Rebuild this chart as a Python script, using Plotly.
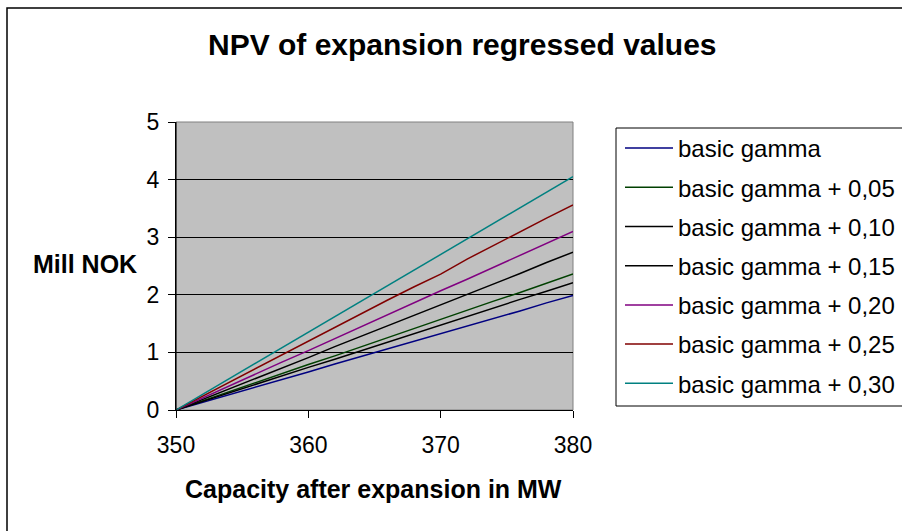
import plotly.graph_objects as go

capacity = [350, 352, 354, 356, 358, 360, 362, 364, 366, 368, 370, 372, 374, 376, 378, 380]

series_names = [
    "basic gamma",
    "basic gamma + 0,05",
    "basic gamma + 0,10",
    "basic gamma + 0,15",
    "basic gamma + 0,20",
    "basic gamma + 0,25",
    "basic gamma + 0,30",
]

npv_basic = [0, 0.13, 0.27, 0.40, 0.53, 0.66, 0.80, 0.93, 1.06, 1.19, 1.33, 1.46, 1.59, 1.72, 1.86, 1.99]
npv_005 = [0, 0.16, 0.32, 0.48, 0.63, 0.79, 0.94, 1.10, 1.26, 1.41, 1.57, 1.73, 1.89, 2.04, 2.20, 2.36]
npv_010 = [0, 0.15, 0.29, 0.44, 0.59, 0.74, 0.88, 1.03, 1.18, 1.33, 1.47, 1.62, 1.77, 1.92, 2.06, 2.21]
npv_015 = [0, 0.18, 0.37, 0.55, 0.73, 0.91, 1.10, 1.28, 1.46, 1.64, 1.83, 2.01, 2.19, 2.37, 2.56, 2.74]
npv_020 = [0, 0.21, 0.41, 0.62, 0.83, 1.03, 1.24, 1.45, 1.65, 1.86, 2.07, 2.27, 2.48, 2.69, 2.89, 3.10]
npv_025 = [0, 0.24, 0.48, 0.72, 0.96, 1.20, 1.44, 1.68, 1.91, 2.14, 2.36, 2.62, 2.86, 3.09, 3.33, 3.56]
npv_030 = [0, 0.27, 0.54, 0.81, 1.08, 1.35, 1.62, 1.89, 2.16, 2.43, 2.70, 2.97, 3.24, 3.51, 3.78, 4.05]

series_values = [npv_basic, npv_005, npv_010, npv_015, npv_020, npv_025, npv_030]
colors = ["#000080", "#004000", "#000000", "#000000", "#800080", "#800000", "#008080"]

x_ticks = [350, 360, 370, 380]
y_ticks = [0, 1, 2, 3, 4, 5]

FONT = "Liberation Sans, Arial, sans-serif"

# plot-area pixel geometry used to place paper-referenced decorations
L, R, T, B = 176, 573, 122, 410
PW, PH = R - L, B - T

def px(x):
    return (x - L) / PW

def py(y):
    return (B - y) / PH

fig = go.Figure()
for i, (name, vals, col) in enumerate(zip(series_names, series_values, colors)):
    fig.add_trace(go.Scatter(
        x=capacity, y=vals, mode="lines", name=name,
        line=dict(color=col, width=1.5), legendgroup=f"g{i}",
    ))

fig.update_layout(
    width=902, height=531,
    margin=dict(l=L, r=902 - R, t=T, b=531 - B, autoexpand=False),
    paper_bgcolor="white", plot_bgcolor="#C0C0C0",
    font=dict(family=FONT, size=24, color="black"),
    showlegend=True,
    legend=dict(
        x=px(620), y=py(126), xanchor="left", yanchor="top",
        borderwidth=0, bgcolor="rgba(0,0,0,0)",
        font=dict(size=24, family=FONT), tracegroupgap=5,
        itemwidth=48,
    ),
    xaxis=dict(
        range=[350, 380], tickvals=x_ticks, showgrid=False, zeroline=False,
        showline=True, linecolor="black", linewidth=1,
        ticks="outside", ticklen=7, tickcolor="black",
        tickfont=dict(size=23, family=FONT), ticklabelstandoff=7,
    ),
    yaxis=dict(
        range=[0, 5], tickvals=y_ticks, showgrid=True, gridcolor="black", gridwidth=1,
        zeroline=False, showline=True, linecolor="black", linewidth=1,
        ticks="outside", ticklen=7, tickcolor="black",
        tickfont=dict(size=23, family=FONT), ticklabelstandoff=4,
    ),
    shapes=[
        dict(type="rect", xref="paper", yref="paper", x0=0, x1=1, y0=0, y1=1,
             line=dict(color="#808080", width=1), layer="below"),
        dict(type="line", xref="paper", yref="paper", x0=0, x1=0, y0=0, y1=1,
             line=dict(color="black", width=1)),
        # outer chart-area border
        dict(type="rect", xref="paper", yref="paper",
             x0=px(7), x1=px(910), y0=py(540), y1=py(8),
             line=dict(color="black", width=1.5)),
        # legend box
        dict(type="rect", xref="paper", yref="paper",
             x0=px(616), x1=px(910), y0=py(406), y1=py(128),
             line=dict(color="black", width=1), layer="below"),
    ],
    annotations=[
        dict(text="<b>NPV of expansion regressed values</b>", xref="paper", yref="paper",
             x=px(462), y=py(45), xanchor="center", yanchor="middle",
             showarrow=False, font=dict(size=30, family=FONT)),
        dict(text="<b>Capacity after expansion in MW</b>", xref="paper", yref="paper",
             x=px(373), y=py(489), xanchor="center", yanchor="middle",
             showarrow=False, font=dict(size=25, family=FONT)),
        dict(text="<b>Mill NOK</b>", xref="paper", yref="paper",
             x=px(85), y=py(264), xanchor="center", yanchor="middle",
             showarrow=False, font=dict(size=25, family=FONT)),
    ],
)

fig.write_html("out.html")
